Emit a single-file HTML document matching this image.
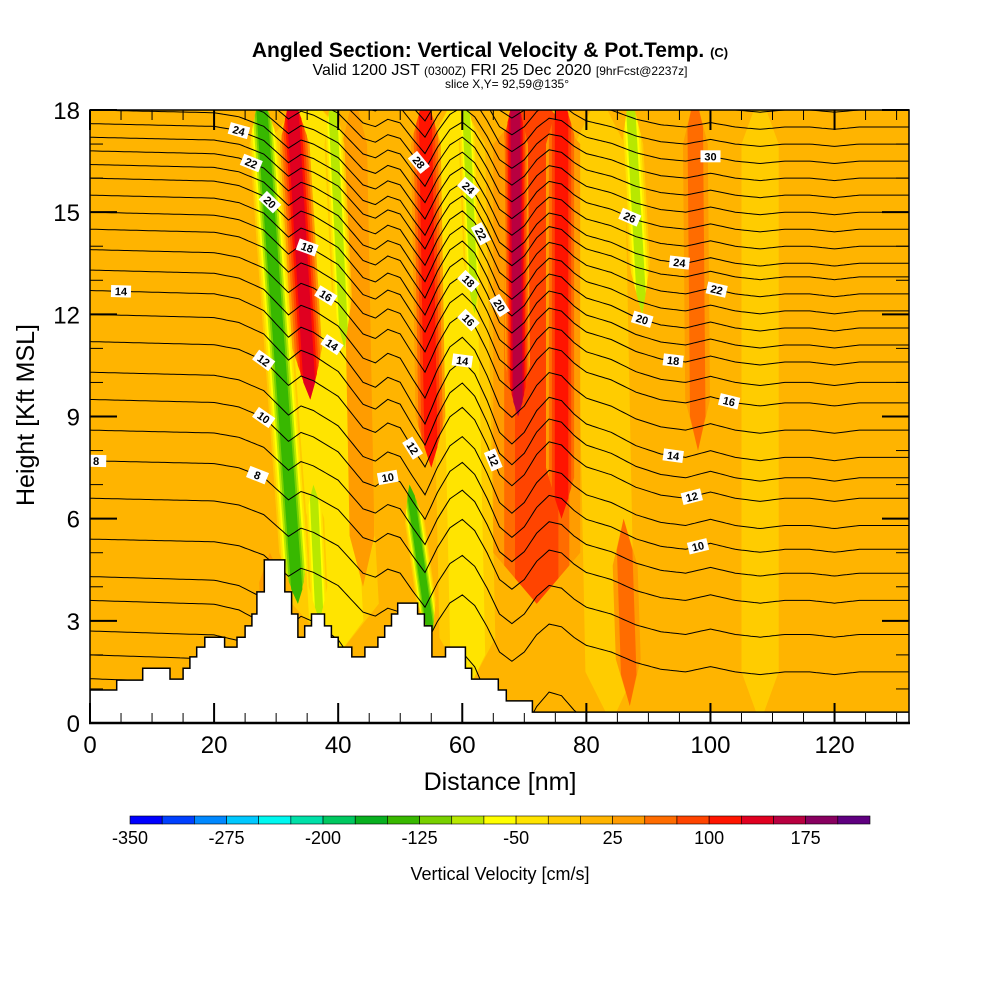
<!DOCTYPE html>
<html><head><meta charset="utf-8"><style>
html,body{margin:0;padding:0;background:#fff;}
svg{display:block;font-family:"Liberation Sans",sans-serif;}
</style></head><body>
<svg id="chart" width="1000" height="1000" viewBox="0 0 1000 1000" xmlns="http://www.w3.org/2000/svg">
<defs><clipPath id="plotclip"><rect x="90" y="110" width="819" height="613"/></clipPath></defs>
<g>
<text x="490" y="57" text-anchor="middle" font-size="21" font-weight="bold">Angled Section: Vertical Velocity &amp; Pot.Temp. <tspan font-size="13">(C)</tspan></text>
<text x="500" y="75" text-anchor="middle" font-size="16">Valid 1200 JST <tspan font-size="12">(0300Z)</tspan> FRI 25 Dec 2020 <tspan font-size="12">[9hrFcst@2237z]</tspan></text>
<text x="507" y="88" text-anchor="middle" font-size="12">slice X,Y= 92,59@135°</text>
</g>
<g id="plot" clip-path="url(#plotclip)">
<rect id="bg" x="90" y="110" width="819" height="613" fill="#FFB400"/>
<g id="bands"></g><g id="lines"></g><g id="terrain"></g><g id="labels"></g>
</g>
<g id="axes"></g>
<g id="colorbar"></g>
<text x="500" y="790" text-anchor="middle" font-size="25">Distance [nm]</text>
<text transform="translate(34,415) rotate(-90)" text-anchor="middle" font-size="25">Height [Kft MSL]</text>
<text x="500" y="880" text-anchor="middle" font-size="18">Vertical Velocity [cm/s]</text>
</svg>
<script>
// ---- data ----
const binColors = ["#0000FF","#0040FF","#0088FF","#00C8FF","#00F8F0","#00E0A8","#00C860","#08B020","#38B800","#78D000","#B8E800","#FFFF00","#FFE400","#FFCC00","#FFB400","#FF9C00","#FF6C00","#FF4400","#FF1400","#E00020","#B80040","#880060","#600080"];
const cbTickValues = [-350,-275,-200,-125,-50,25,100,175];
const xTicks = [0,20,40,60,80,100,120];
const yTicks = [0,3,6,9,12,15,18];
const bgValue = 10;
// velocity bands: bottom x, top x, bottom z, top z, half-width (nm), value (cm/s)
const bandX0 = [40,61,84,108,30,44,37,33.5,35.5,41,55,55,62,72,69,76,89,98,87];
const bandX1 = [35,59,82,108,29,42.5,36,27.5,32.5,39,51.5,54,60.5,72,68.5,76,87,97.5,86];
const bandZ0 = [2,1,0,0,1.5,4,3,3.5,9.5,11,2.5,7.5,12,3.5,9,6,12,8,0.5];
const bandZ1 = [18.5,18.5,18.5,18.5,5,18.5,7,18.5,18.5,18.5,7,18.5,18.5,18.5,18.5,18.5,18.5,18.5,6];
const bandHW = [7,4.5,4,3,2,2,1.5,2.4,2.4,1.6,1.6,2.4,1.4,7,2,2.5,1.7,2,2];
const bandValue = [-30,-35,-20,-15,40,45,-100,-130,130,-90,-130,120,-90,75,170,115,-90,50,60];
// terrain steps
const terrX = [0,4.3,8.5,12.9,15,16.1,17.2,18.5,21.7,23.7,25,26.1,26.9,28.1,31.4,32.5,33.5,34.6,35.7,37.8,38.9,40,42.2,44.3,46.4,47.5,48.6,49.6,52.8,53.9,55.1,57.3,60.5,61.5,65.8,67.1,71.3];
const terrH = [0.97,1.26,1.61,1.29,1.61,1.94,2.23,2.52,2.23,2.52,2.85,3.2,3.85,4.79,3.85,3.2,2.52,2.85,3.2,2.85,2.52,2.23,1.94,2.23,2.52,2.85,3.2,3.52,3.2,2.85,1.94,2.23,1.61,1.29,0.97,0.65,0.32];
// potential temperature line heights (kft) at left and right ends
const thetaLevels = [1,2,3,4,5,6,7,8,9,10,11,12,13,14,15,16,17,18,19,20,21,22,23,24,25,26,27,28,29,30,31,32,33,34,35];
const leftHeight = [1.3,2.0,2.7,3.6,4.3,5.4,6.6,7.7,8.6,9.5,10.3,11.2,12.0,12.7,13.3,13.9,14.5,15.0,15.5,16.0,16.4,16.8,17.2,17.6,18.0,18.4,18.8,19.2,19.6,20,20.4,20.8,21.2,21.6,22];
const rightHeight = [-5,-4,-3,-2,-1,1.5,2.6,3.6,4.4,5.1,5.8,6.6,7.2,7.8,8.6,9.4,10.0,10.6,11.1,11.6,12.1,12.6,13.1,13.5,14.0,14.5,15.0,15.5,16.0,16.5,17.0,17.5,18.0,18.5,19.0];
const mixX = [0,20,24,28,30,32,34,36,38,40,42,44,46,48,50,52,54,56,58,60,62,64,66,68,70,72,74,76,78,80,84,88,92,96,100,104,108,112,116,120,124,128,132];
const mixW = [0,0.02,0.05,0.12,0.2,0.28,0.22,0.25,0.3,0.35,0.45,0.55,0.58,0.52,0.55,0.68,0.8,0.62,0.48,0.42,0.5,0.66,0.85,0.92,0.85,0.72,0.64,0.66,0.74,0.8,0.85,0.93,0.98,1.0,0.96,1.0,1.02,1.0,1.0,1.02,1.0,1.0,1.0];
const labelTheta = [14,8,24,22,20,12,10,8,18,16,14,10,12,28,24,22,18,16,14,20,12,26,30,24,22,20,18,16,14,12,10];
const labelX = [5,1,24,26,29,28,28,27,35,38,39,48,52,53,61,63,61,61,60,66,65,87,100,95,101,89,94,103,94,97,98];

// ---- helpers ----
const NS="http://www.w3.org/2000/svg";
const X = nm => 90 + nm*819/132;
const Y = z => 723 - z*613/18;
function mk(tag, attrs, parent){const e=document.createElementNS(NS,tag);for(const k in attrs)e.setAttribute(k,attrs[k]);parent.appendChild(e);return e;}
function colorFor(v){let i=Math.floor((v+350)/25);i=Math.max(0,Math.min(binColors.length-1,i));return binColors[i];}
function interp(xs,ys,x){if(x<=xs[0])return ys[0];for(let i=1;i<xs.length;i++){if(x<=xs[i]){const t=(x-xs[i-1])/(xs[i]-xs[i-1]);return ys[i-1]+t*(ys[i]-ys[i-1]);}}return ys[ys.length-1];}
function lineZ(idx,x){const w=interp(mixX,mixW,x);return leftHeight[idx]+(rightHeight[idx]-leftHeight[idx])*w;}

// ---- bands ----
const gB=document.getElementById('bands');
for(let b=0;b<bandValue.length;b++){
  const v=bandValue[b];
  const nb=Math.abs(Math.floor((v+350)/25)-Math.floor((bgValue+350)/25));
  const N=Math.max(1,nb);
  for(let k=1;k<=N;k++){
    const val=bgValue+(v-bgValue)*k/N;
    const hw=bandHW[b]*(1-0.75*(k-1)/N);
    const z0=bandZ0[b],z1=bandZ1[b];
    const taper=Math.min(1.5,(z1-z0)/4)*(1-(k-1)/(N+1));
    const cx=z=>bandX0[b]+(bandX1[b]-bandX0[b])*(z-z0)/(z1-z0);
    const za=z0+taper, zb=z1-taper;
    const pts=[[cx(z0),z0],[cx(za)-hw,za],[cx(zb)-hw,zb],[cx(z1),z1],[cx(zb)+hw,zb],[cx(za)+hw,za]];
    const p=mk('polygon',{points:pts.map(q=>X(q[0]).toFixed(1)+','+Y(q[1]).toFixed(1)).join(' '),fill:colorFor(val)},gB);
    
    
  }
}

// ---- theta lines ----
const gL=document.getElementById('lines');
for(let i=0;i<thetaLevels.length;i++){
  let d='';
  for(let x=0;x<=132;x+=0.5){d+=(x===0?'M':'L')+X(x).toFixed(1)+','+Y(lineZ(i,x)).toFixed(1);}
  const p=mk('path',{d:d,fill:'none',stroke:'#000','stroke-width':1},gL);
  
  
}

// ---- terrain ----
const gT=document.getElementById('terrain');
let td='M'+X(0)+','+Y(-1);
for(let i=0;i<terrX.length;i++){const xe=i+1<terrX.length?terrX[i+1]:133;td+='L'+X(terrX[i]).toFixed(1)+','+Y(terrH[i]).toFixed(1)+'L'+X(xe).toFixed(1)+','+Y(terrH[i]).toFixed(1);}
td+='L'+X(133)+','+Y(-1)+'Z';
const tp=mk('path',{d:td,fill:'#fff',stroke:'#000','stroke-width':1.5},gT);



// ---- contour labels ----
const gLab=document.getElementById('labels');
for(let j=0;j<labelTheta.length;j++){
  const idx=thetaLevels.indexOf(labelTheta[j]);if(idx<0)continue;
  const x=labelX[j];const z=lineZ(idx,x);
  if(z>17.8||z<0)continue;
  const dy=Y(lineZ(idx,x+0.5))-Y(lineZ(idx,x-0.5));const dx=X(x+0.5)-X(x-0.5);
  const ang=Math.atan2(dy,dx)*180/Math.PI;
  const g=mk('g',{transform:`translate(${X(x).toFixed(1)},${Y(z).toFixed(1)}) rotate(${ang.toFixed(1)})`},gLab);
  
  
  mk('rect',{x:-10,y:-6,width:20,height:12,fill:'#fff'},g);
  const t=mk('text',{x:0,y:4,'text-anchor':'middle','font-size':11,'font-weight':'bold'},g);
  t.textContent=labelTheta[j];
}

// ---- axes ----
const gA=document.getElementById('axes');
mk('rect',{x:90,y:110,width:819,height:613,fill:'none',stroke:'#000','stroke-width':1.5},gA);
mk('line',{x1:89,y1:723,x2:910,y2:723,stroke:'#000','stroke-width':2.5},gA);
for(let v=0;v<=132;v+=5){
  const big=v%20===0,len=big?20:10;
  mk('line',{x1:X(v),y1:723,x2:X(v),y2:723-len,stroke:'#000','stroke-width':big?2:1},gA);
  mk('line',{x1:X(v),y1:110,x2:X(v),y2:110+len,stroke:'#000','stroke-width':big?2:1},gA);
}
for(let v=0;v<=18;v+=1){
  const big=v%3===0,len=big?27:13;
  mk('line',{x1:90,y1:Y(v),x2:90+len,y2:Y(v),stroke:'#000','stroke-width':big?2:1},gA);
  mk('line',{x1:909,y1:Y(v),x2:909-len,y2:Y(v),stroke:'#000','stroke-width':big?2:1},gA);
}
xTicks.forEach(v=>{const t=mk('text',{x:X(v),y:753,'text-anchor':'middle','font-size':24},gA);t.textContent=v;

});
yTicks.forEach(v=>{const t=mk('text',{x:80,y:Y(v)+9,'text-anchor':'end','font-size':24},gA);t.textContent=v;

});

// ---- colorbar ----
const gC=document.getElementById('colorbar');
const cw=740/binColors.length;
binColors.forEach((c,i)=>{const r=mk('rect',{x:130+i*cw,y:816,width:cw,height:8,fill:c,stroke:'#000','stroke-width':0.6},gC);

});
cbTickValues.forEach(v=>{const i=(v+350)/25;const t=mk('text',{x:130+i*cw,y:844,'text-anchor':'middle','font-size':18},gC);t.textContent=v;

});
</script>
</body></html>
